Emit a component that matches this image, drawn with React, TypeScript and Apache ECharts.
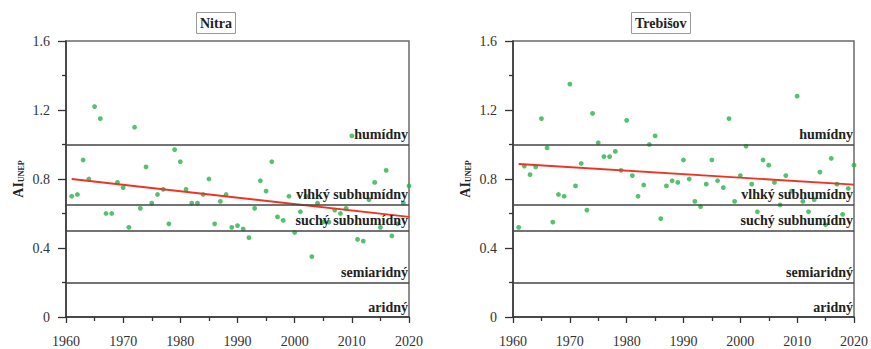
import React, { useEffect, useRef } from "react";
import * as echarts from "echarts";

// Years 1961–2020
const years: number[] = Array.from({ length: 60 }, (_, i) => 1961 + i);

const nitraAI: number[] = [
  0.70, 0.71, 0.91, 0.80, 1.22, 1.15, 0.60, 0.60, 0.78, 0.75,
  0.52, 1.10, 0.63, 0.87, 0.66, 0.71, 0.74, 0.54, 0.97, 0.90,
  0.74, 0.66, 0.66, 0.71, 0.80, 0.54, 0.67, 0.71, 0.52, 0.53,
  0.51, 0.46, 0.63, 0.79, 0.73, 0.90, 0.58, 0.56, 0.70, 0.49,
  0.61, 0.70, 0.35, 0.66, 0.55, 0.55, 0.62, 0.60, 0.63, 1.05,
  0.45, 0.44, 0.68, 0.78, 0.52, 0.85, 0.47, 0.54, 0.66, 0.76,
];

const trebisovAI: number[] = [
  0.52, 0.875, 0.825, 0.87, 1.15, 0.98, 0.55, 0.71, 0.70, 1.35,
  0.76, 0.89, 0.62, 1.18, 1.01, 0.93, 0.93, 0.96, 0.85, 1.14,
  0.82, 0.70, 0.765, 1.00, 1.05, 0.57, 0.76, 0.79, 0.78, 0.91,
  0.80, 0.67, 0.64, 0.77, 0.91, 0.79, 0.75, 1.15, 0.67, 0.82,
  0.99, 0.77, 0.61, 0.91, 0.88, 0.78, 0.65, 0.82, 0.73, 1.28,
  0.67, 0.61, 0.68, 0.84, 0.535, 0.92, 0.77, 0.595, 0.745, 0.88,
];

// Linear trend end points [year, AI]
const nitraTrend: [number, number][] = [[1961, 0.80], [2020, 0.58]];
const trebisovTrend: [number, number][] = [[1961, 0.887], [2020, 0.767]];

// Aridity class boundaries and class names (placed above each boundary)
const classBounds: number[] = [1.0, 0.65, 0.5, 0.2, 0];
const classNames: string[] = ["humídny", "vlhký subhumídny", "suchý subhumídny", "semiaridný", "aridný"];

const stations: string[] = ["Nitra", "Trebišov"];

const yTicks = { min: 0, max: 1.6, interval: 0.4 };
const xTicks = { min: 1960, max: 2020, interval: 10 };

const SERIF = "'Liberation Serif', 'DejaVu Serif', serif";

export default function App() {
  const ref = useRef<HTMLDivElement>(null);

  useEffect(() => {
    if (!ref.current) return;
    const chart = echarts.init(ref.current, undefined, { renderer: "svg" });

    const grids = [
      { left: 66, right: 462, top: 41, bottom: 32 },
      { left: 513, right: 15, top: 41, bottom: 32 },
    ];
    const titleLeft = [196, 631];
    const dataSets = [nitraAI, trebisovAI];
    const trends = [nitraTrend, trebisovTrend];

    const option: any = {
      animation: false,
      backgroundColor: "#ffffff",
      title: stations.map((s, i) => ({
        text: s,
        left: titleLeft[i],
        top: 12,
        padding: [4, 4, 3, 4],
        borderColor: "#9a9a9a",
        borderWidth: 1,
        backgroundColor: "#fff",
        textStyle: { fontFamily: SERIF, fontWeight: "bold", fontSize: 14, color: "#222", lineHeight: 15 },
      })),
      grid: grids.map((g) => ({
        ...g,
        show: true,
        borderColor: "#6a6a6a",
        borderWidth: 1.5,
        backgroundColor: "transparent",
      })),
      xAxis: grids.map((_, i) => ({
        type: "value",
        gridIndex: i,
        min: xTicks.min,
        max: xTicks.max,
        interval: xTicks.interval,
        axisLine: { show: true, onZero: false, lineStyle: { color: "#333", width: 1.5 } },
        axisTick: { show: true, length: 6, lineStyle: { color: "#333", width: 1.3 } },
        minorTick: { show: true, splitNumber: 2, length: 4, lineStyle: { color: "#333", width: 1.3 } },
        splitLine: { show: false },
        axisLabel: {
          margin: 17,
          fontFamily: SERIF,
          fontSize: 14,
          color: "#333",
          formatter: (v: number) => String(v),
        },
      })),
      yAxis: grids.map((_, i) => ({
        type: "value",
        gridIndex: i,
        min: yTicks.min,
        max: yTicks.max,
        interval: yTicks.interval,
        name: "{a|AI}{b|UNEP}",
        nameLocation: "middle",
        nameRotate: 90,
        nameGap: 41,
        nameTextStyle: {
          rich: {
            a: { fontFamily: SERIF, fontWeight: "bold", fontSize: 14, color: "#222", verticalAlign: "bottom", lineHeight: 16 },
            b: { fontFamily: SERIF, fontWeight: "bold", fontSize: 8, color: "#222", verticalAlign: "bottom", lineHeight: 12 },
          },
        },
        axisLine: { show: true, onZero: false, lineStyle: { color: "#333", width: 1.5 } },
        axisTick: { show: true, length: 8, lineStyle: { color: "#333", width: 1.3 } },
        minorTick: { show: true, splitNumber: 2, length: 4, lineStyle: { color: "#333", width: 1.3 } },
        splitLine: { show: false },
        axisLabel: {
          margin: 16,
          fontFamily: SERIF,
          fontSize: 14,
          color: "#333",
          formatter: (v: number) => (v === 0 ? "0" : v.toFixed(1)),
        },
      })),
      series: [
        ...dataSets.map((vals, i) => ({
          type: "scatter",
          xAxisIndex: i,
          yAxisIndex: i,
          symbolSize: 4.8,
          itemStyle: { color: "#2bb24a" },
          data: years.map((y, k) => [y, vals[k]]),
          z: 3,
          markLine: {
            silent: true,
            symbol: "none",
            lineStyle: { color: "#444", width: 1.5, type: "solid" },
            label: {
              show: true,
              position: "insideEndTop",
              distance: [1, 3],
              fontFamily: SERIF,
              fontWeight: "bold",
              fontSize: 14,
              color: "#222",
            },
            data: classBounds.map((b, k) => ({
              yAxis: b,
              label: { formatter: classNames[k] },
              lineStyle: b === 0 ? { color: "rgba(0,0,0,0)" } : undefined,
            })),
            z: 5,
          },
        })),
        ...trends.map((t, i) => ({
          type: "line",
          xAxisIndex: i,
          yAxisIndex: i,
          data: t,
          symbol: "none",
          lineStyle: { color: "#ee3322", width: 1.8 },
          z: 4,
        })),
      ],
    };

    chart.setOption(option);
    return () => chart.dispose();
  }, []);

  return (
    <div
      ref={ref}
      style={{ position: "fixed", left: 0, top: 0, width: 871, height: 349 }}
    />
  );
}
